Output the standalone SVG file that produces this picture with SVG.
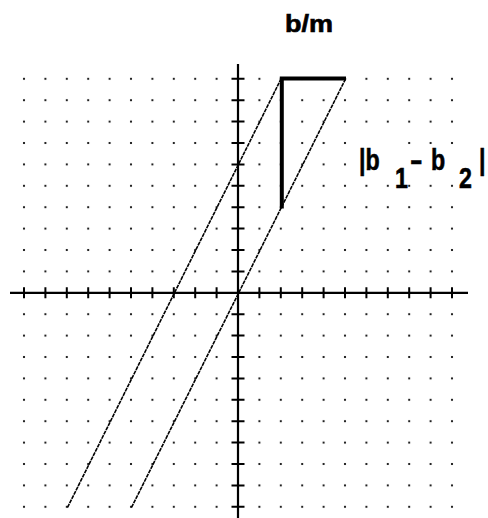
<svg xmlns="http://www.w3.org/2000/svg" width="488" height="518" viewBox="0 0 488 518">
  <style>
    .lbl { font-family: "Liberation Sans", Arial, sans-serif; font-weight: bold; fill: #000; stroke: #000; stroke-width: 0.6; }
    .axis { stroke: #000; stroke-width: 2.2; fill: none; }
    .tick { stroke: #000; stroke-width: 2; }
    .graph { stroke: #000; stroke-width: 1.6; stroke-dasharray: 4 0.8; fill: none; }
    .thick { stroke: #000; stroke-width: 4; fill: none; stroke-linejoin: miter; }
  </style>
  <defs>
    <pattern id="dots" patternUnits="userSpaceOnUse" x="13.3" y="68.1" width="21.4" height="21.4">
      <rect x="9.7" y="9.7" width="2" height="2" fill="#222"/>
    </pattern>
  </defs>
  <rect width="488" height="518" fill="#fff"/>
  <g id="grid">
    <rect x="13.3" y="68.1" width="449.4" height="449.4" fill="url(#dots)"/>
    <rect x="358" y="140" width="34" height="44" fill="#fff"/>
    <rect x="394" y="147" width="94" height="37" fill="#fff"/>
  </g>
  <g id="axes">
    <line class="axis" x1="10" y1="292.8" x2="468" y2="292.8"/>
    <line class="axis" x1="238" y1="64" x2="238" y2="518"/>
    <path class="tick" d="M24 287.3V298.3M45.4 287.3V298.3M66.8 287.3V298.3M88.2 287.3V298.3M109.6 287.3V298.3M131 287.3V298.3M152.4 287.3V298.3M173.8 287.3V298.3M195.2 287.3V298.3M216.6 287.3V298.3M259.4 287.3V298.3M280.8 287.3V298.3M302.2 287.3V298.3M323.6 287.3V298.3M345 287.3V298.3M366.4 287.3V298.3M387.8 287.3V298.3M409.2 287.3V298.3M430.6 287.3V298.3M452 287.3V298.3"/>
    <path class="tick" d="M231.5 78.8H244.5M231.5 100.2H244.5M231.5 121.6H244.5M231.5 143H244.5M231.5 164.4H244.5M231.5 185.8H244.5M231.5 207.2H244.5M231.5 228.6H244.5M231.5 250H244.5M231.5 271.4H244.5M231.5 314.2H244.5M231.5 335.6H244.5M231.5 357H244.5M231.5 378.4H244.5M231.5 399.8H244.5M231.5 421.2H244.5M231.5 442.6H244.5M231.5 464H244.5M231.5 485.4H244.5M231.5 506.8H244.5"/>
  </g>
  <g id="connectors">
    <line id="line1" class="graph" x1="67.5" y1="507.5" x2="281.5" y2="78"/>
    <line id="line2" class="graph" x1="131.5" y1="507.5" x2="346" y2="78"/>
    <polyline id="triangle" class="thick" points="346,78.5 281.8,78.5 281.8,208.5"/>
  </g>
  <g id="label-bm">
    <text class="lbl" x="285" y="31.7" font-size="23" textLength="48" lengthAdjust="spacingAndGlyphs">b/m</text>
  </g>
  <g id="label-diff">
    <text class="lbl" font-size="29" transform="translate(359,170) scale(0.8,1)">|b</text>
    <text class="lbl" font-size="29" transform="translate(395,188) scale(0.8,1)">1</text>
    <text class="lbl" font-size="29" transform="translate(410,170) scale(1.3,1)">-</text>
    <text class="lbl" font-size="29" transform="translate(431,170) scale(0.8,1)">b</text>
    <text class="lbl" font-size="29" transform="translate(459,188) scale(0.8,1)">2</text>
    <text class="lbl" font-size="29" transform="translate(479,170) scale(0.8,1)">|</text>
  </g>
</svg>
